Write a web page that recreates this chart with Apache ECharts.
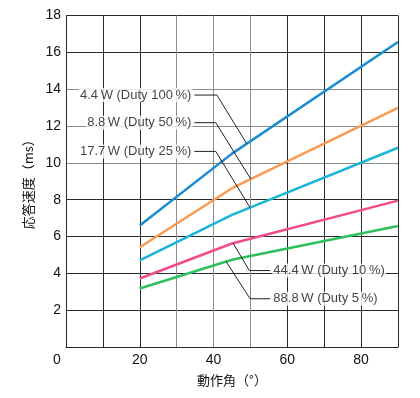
<!DOCTYPE html>
<html>
<head>
<meta charset="utf-8">
<script src="https://cdn.jsdelivr.net/npm/echarts@6/dist/echarts.min.js"></script>
<style>
html, body { margin: 0; padding: 0; background: #fff; }
#main { width: 420px; height: 398px; }
</style>
</head>
<body>
<div id="main"></div>
<script>
// 動作角 (°)
var angles = [20, 45, 90];
// 応答速度 (ms)
var duty100 = [6.6, 10.5, 16.56];
var duty50 = [5.42, 8.62, 12.99];
var duty25 = [4.7, 7.17, 10.82];
var duty10 = [3.72, 5.62, 7.95];
var duty5 = [3.18, 4.74, 6.57];

var seriesNames = ['4.4\u2009W (Duty 100\u2009%)', '8.8\u2009W (Duty 50\u2009%)', '17.7\u2009W (Duty 25\u2009%)', '44.4\u2009W (Duty 10\u2009%)', '88.8\u2009W (Duty 5\u2009%)'];
var seriesColors = ['#1a8cd0', '#fb9a50', '#1ab6d6', '#f04c8c', '#2fbf5c'];
var xTicks = [0, 20, 40, 60, 80];

// 引出線: テキスト位置, 折れ点, 曲線上の接点 (x)
var labelX = [34.8, 34.8, 34.8, 55.4, 55.4];
var labelY = [13.68, 12.18, 10.62, 4.15, 2.62];
var elbowX = [40.9, 40.6, 40.6, 49.7, 49.9];
var touchX = [49, 50.1, 49.9, 45.3, 43.4];
var labelSide = ['left', 'left', 'left', 'right', 'right'];

var allValues = [duty100, duty50, duty25, duty10, duty5];

function pairs(vals) {
  return angles.map(function (a, i) { return [a, vals[i]]; });
}

// 曲線上の値を補間
function valueAt(vals, x) {
  for (var i = 0; i < angles.length - 1; i++) {
    if (x >= angles[i] && x <= angles[i + 1]) {
      var t = (x - angles[i]) / (angles[i + 1] - angles[i]);
      return vals[i] + t * (vals[i + 1] - vals[i]);
    }
  }
  return vals[vals.length - 1];
}

var font = "'Liberation Sans', 'Noto Sans CJK JP', sans-serif";
var black = '#2a2a2a';
var gray = '#8c8c8c';

var series = [];
allValues.forEach(function (vals, i) {
  series.push({
    name: seriesNames[i],
    type: 'line',
    data: pairs(vals),
    symbol: 'none',
    silent: true,
    z: 3,
    lineStyle: { color: seriesColors[i], width: 2.5 }
  });
});

allValues.forEach(function (vals, i) {
  series.push({
    type: 'line',
    data: [
      [labelX[i], labelY[i]],
      [elbowX[i], labelY[i]],
      [touchX[i], valueAt(vals, touchX[i])]
    ],
    symbol: 'none',
    silent: true,
    z: 4,
    lineStyle: { color: '#222', width: 1 }
  });
});

series.push({
  type: 'scatter',
  symbolSize: 0,
  silent: true,
  z: 5,
  data: labelX.map(function (x, i) {
    return {
      value: [x, labelY[i]],
      label: {
        show: true,
        position: labelSide[i],
        distance: 2,
        formatter: seriesNames[i],
        color: '#111',
        fontSize: 13,
        fontFamily: font,
        backgroundColor: '#fff',
        padding: [1, 1, 0, 1]
      }
    };
  })
});

var chart = echarts.init(document.getElementById('main'), null, { renderer: 'canvas' });

chart.setOption({
  animation: false,
  backgroundColor: '#fff',
  grid: { left: 66, right: 22, top: 15.5, bottom: 51, containLabel: false },
  xAxis: {
    type: 'value',
    min: 0,
    max: 90,
    interval: 10,
    name: '動作角（°）',
    nameLocation: 'middle',
    nameGap: 27,
    nameTextStyle: { fontSize: 13, color: '#111', fontFamily: "'Noto Sans CJK JP', sans-serif" },
    axisLine: { lineStyle: { color: black, width: 1 } },
    axisTick: { show: false },
    axisLabel: {
      margin: 6,
      fontSize: 14,
      color: '#111',
      fontFamily: font,
      formatter: function (v) {
        if (xTicks.indexOf(v) < 0) return '';
        return v === 0 ? '{o|0}' : String(v);
      },
      rich: { o: { fontSize: 14, fontFamily: font, color: '#111', padding: [0, 18, 0, 0] } }
    },
    splitLine: {
      show: true,
      lineStyle: { color: [black, black, black, gray, gray, gray, black, black, black, black], width: 1 }
    }
  },
  yAxis: {
    type: 'value',
    min: 0,
    max: 18,
    interval: 2,
    name: '応答速度（ms）',
    nameLocation: 'middle',
    nameGap: 26,
    nameTextStyle: { fontSize: 13, color: '#111', fontFamily: "'Noto Sans CJK JP', sans-serif" },
    axisLine: { show: true, lineStyle: { color: black, width: 1 } },
    axisTick: { show: false },
    axisLabel: {
      margin: 5,
      fontSize: 14,
      color: '#111',
      fontFamily: font,
      formatter: function (v) { return v === 0 ? '' : String(v); }
    },
    splitLine: {
      show: true,
      lineStyle: { color: [black, black, black, black, black, gray, gray, gray, black, black], width: 1 }
    }
  },
  series: series
});
</script>
</body>
</html>
